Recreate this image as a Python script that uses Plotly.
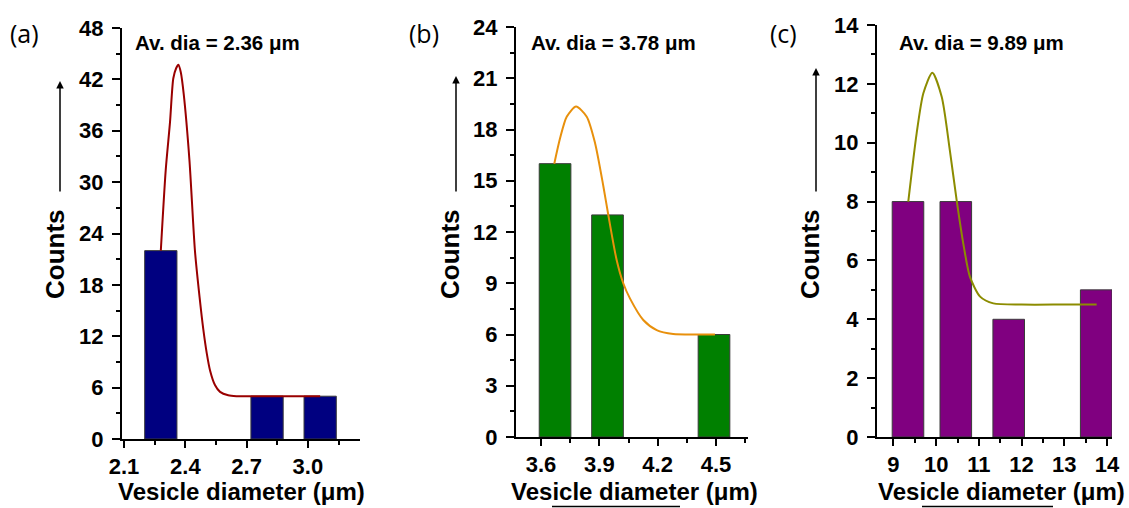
import plotly.graph_objects as go

W, H = 1129, 508

# ---------------- data ----------------
# panel (a)
a_bar_x = [2.28, 2.80, 3.06]
a_bar_y = [22, 5, 5]
a_fit_x = [2.28, 2.304, 2.325, 2.341, 2.355, 2.366, 2.378, 2.392, 2.42, 2.447,
           2.47, 2.488, 2.505, 2.521, 2.545, 2.57, 2.61, 2.65, 2.85, 3.06]
a_fit_y = [22, 31.4, 37.0, 42.1, 43.3, 43.7, 42.8, 40.3, 32.6, 22,
           16.5, 12.8, 10.0, 8.0, 6.3, 5.5, 5.1, 5.0, 5.0, 5.0]
a_xticks = [2.1, 2.4, 2.7, 3.0]
a_xticklabels = ["2.1", "2.4", "2.7", "3.0"]
a_note = "Av. dia = 2.36 \u03bcm"

# panel (b)
b_bar_x = [3.672, 3.942, 4.49]
b_bar_y = [16, 13, 6]
b_fit_x = [3.668, 3.698, 3.732, 3.78, 3.835, 3.878, 3.921, 3.946, 3.989, 4.023,
           4.058, 4.126, 4.195, 4.28, 4.40, 4.495]
b_fit_y = [16.0, 17.5, 18.75, 19.34, 18.75, 17.2, 14.65, 13.0, 10.36, 9.0,
           8.1, 6.85, 6.26, 6.03, 6.0, 6.0]
b_xticks = [3.6, 3.9, 4.2, 4.5]
b_xticklabels = ["3.6", "3.9", "4.2", "4.5"]
b_note = "Av. dia = 3.78 \u03bcm"

# panel (c)
c_bar_x = [9.34, 10.46, 11.70, 13.75]
c_bar_y = [8, 8, 4, 5]
c_fit_x = [9.347, 9.543, 9.70, 9.91, 10.13, 10.32, 10.48, 10.635, 10.79, 11.03,
           11.34, 12.0, 13.0, 13.76]
c_fit_y = [8.0, 10.32, 11.68, 12.38, 11.56, 9.75, 8.05, 6.58, 5.45, 4.77,
           4.54, 4.5, 4.5, 4.5]
c_xticks = [9, 10, 11, 12, 13, 14]
c_xticklabels = ["9", "10", "11", "12", "13", "14"]
c_note = "Av. dia = 9.89 \u03bcm"

x_title = "Vesicle diameter (\u03bcm)"
y_title = "Counts"
panel_labels = ["(a)", "(b)", "(c)"]

# ---------------- styling ----------------
BOLD = dict(family="Liberation Sans, Arial, sans-serif", color="black", weight="bold")

def px_x(p):
    return p / W

def px_y(p):
    return 1 - p / H

panels = [
    dict(bx=a_bar_x, by=a_bar_y, bw=0.158, fx=a_fit_x, fy=a_fit_y,
         bar_color="#000080", line_color="#990000",
         xdom=(122, 360), ydom=(439, 28), xr=[2.09, 3.255], yr=[0, 48],
         ydt=6, ymin=3, xt=a_xticks, xtl=a_xticklabels,
         xminor=[2.25, 2.55, 2.85, 3.15], note=a_note, note_x=133,
         lab_x=8, ytitle_x=55, arrow_x=60, arrow_top=81, xtitle_c=241, bottom_line=None),
    dict(bx=b_bar_x, by=b_bar_y, bw=0.163, fx=b_fit_x, fy=b_fit_y,
         bar_color="#008000", line_color="#E8900C",
         xdom=(516, 748), ydom=(437, 27), xr=[3.471, 4.665], yr=[0, 24],
         ydt=3, ymin=1.5, xt=b_xticks, xtl=b_xticklabels,
         xminor=[3.75, 4.05, 4.35, 4.65], note=b_note, note_x=529,
         lab_x=407, ytitle_x=450, arrow_x=456, arrow_top=76, xtitle_c=634,
         bottom_line=(552, 680)),
    dict(bx=c_bar_x, by=c_bar_y, bw=0.74, fx=c_fit_x, fy=c_fit_y,
         bar_color="#800080", line_color="#8C8C00",
         xdom=(877, 1112), ydom=(437, 25), xr=[8.614, 14.12], yr=[0, 14],
         ydt=2, ymin=1, xt=c_xticks, xtl=c_xticklabels,
         xminor=[9.5, 10.5, 11.5, 12.5, 13.5], note=c_note, note_x=897,
         lab_x=768, ytitle_x=810, arrow_x=816, arrow_top=68, xtitle_c=1001,
         bottom_line=(922, 1053)),
]

fig = go.Figure()
layout = dict(width=W, height=H, margin=dict(l=0, r=0, t=0, b=0, pad=0, autoexpand=False),
              paper_bgcolor="white", plot_bgcolor="white", showlegend=False)
annotations = []
shapes = []

for i, p in enumerate(panels):
    n = "" if i == 0 else str(i + 1)
    xa, ya = "x" + n, "y" + n
    fig.add_trace(go.Bar(x=p["bx"], y=p["by"], width=p["bw"], xaxis=xa, yaxis=ya,
                         marker=dict(color=p["bar_color"], line=dict(color="#3a3a3a", width=1))))
    fig.add_trace(go.Scatter(x=p["fx"], y=p["fy"], mode="lines", xaxis=xa, yaxis=ya,
                             line=dict(color=p["line_color"], width=2, shape="spline", smoothing=0.7)))
    layout["xaxis" + n] = dict(
        domain=[px_x(p["xdom"][0]), px_x(p["xdom"][1])], range=p["xr"], anchor=ya,
        automargin=False,
        tickmode="array", tickvals=p["xt"], ticktext=p["xtl"],
        ticks="outside", ticklen=7, tickwidth=2, tickcolor="black",
        showline=True, linewidth=2, linecolor="black", showgrid=False, zeroline=False,
        tickfont=dict(size=22, **BOLD), ticklabelstandoff=0,
        minor=dict(tickvals=p["xminor"], ticks="outside", ticklen=4, tickwidth=1.5,
                   tickcolor="black", showgrid=False),
    )
    layout["yaxis" + n] = dict(
        domain=[px_y(p["ydom"][0]), px_y(p["ydom"][1])], range=p["yr"], anchor=xa,
        automargin=False,
        tickmode="linear", tick0=0, dtick=p["ydt"],
        ticks="outside", ticklen=8, tickwidth=2, tickcolor="black",
        showline=True, linewidth=2, linecolor="black", showgrid=False, zeroline=False,
        tickfont=dict(size=22, **BOLD), ticklabelstandoff=4,
        minor=dict(dtick=p["ymin"], tick0=0, ticks="outside", ticklen=4, tickwidth=1.5,
                   tickcolor="black", showgrid=False),
    )
    # average-diameter note
    annotations.append(dict(text=p["note"], x=px_x(p["note_x"]), y=px_y(43), xref="paper", yref="paper",
                            xanchor="left", yanchor="middle", showarrow=False,
                            font=dict(size=20.5, **BOLD)))
    # panel label
    annotations.append(dict(text=panel_labels[i], x=px_x(p["lab_x"]), y=px_y(33), xref="paper", yref="paper",
                            xanchor="left", yanchor="middle", showarrow=False,
                            font=dict(family="Open Sans, Lato, sans-serif", size=25, color="black")))
    # y title
    annotations.append(dict(text=y_title, x=px_x(p["ytitle_x"]), y=px_y(254), xref="paper", yref="paper",
                            xanchor="center", yanchor="middle", showarrow=False, textangle=-90,
                            font=dict(size=26, **BOLD)))
    # y arrow
    annotations.append(dict(text="", x=px_x(p["arrow_x"]), y=px_y(p["arrow_top"]), xref="paper", yref="paper",
                            ax=0, ay=193 - p["arrow_top"], axref="pixel", ayref="pixel",
                            showarrow=True, arrowhead=2, arrowsize=1, arrowwidth=1.5, arrowcolor="black"))
    # x title
    annotations.append(dict(text=x_title, x=px_x(p["xtitle_c"]), y=px_y(491), xref="paper", yref="paper",
                            xanchor="center", yanchor="middle", showarrow=False,
                            font=dict(size=24, **BOLD)))
    if p["bottom_line"]:
        x0, x1 = p["bottom_line"]
        shapes.append(dict(type="line", xref="paper", yref="paper",
                           x0=px_x(x0), x1=px_x(x1), y0=px_y(506.5), y1=px_y(506.5),
                           line=dict(color="black", width=1.5)))

layout["annotations"] = annotations
layout["shapes"] = shapes
fig.update_layout(**layout)
fig.write_html("out.html")
